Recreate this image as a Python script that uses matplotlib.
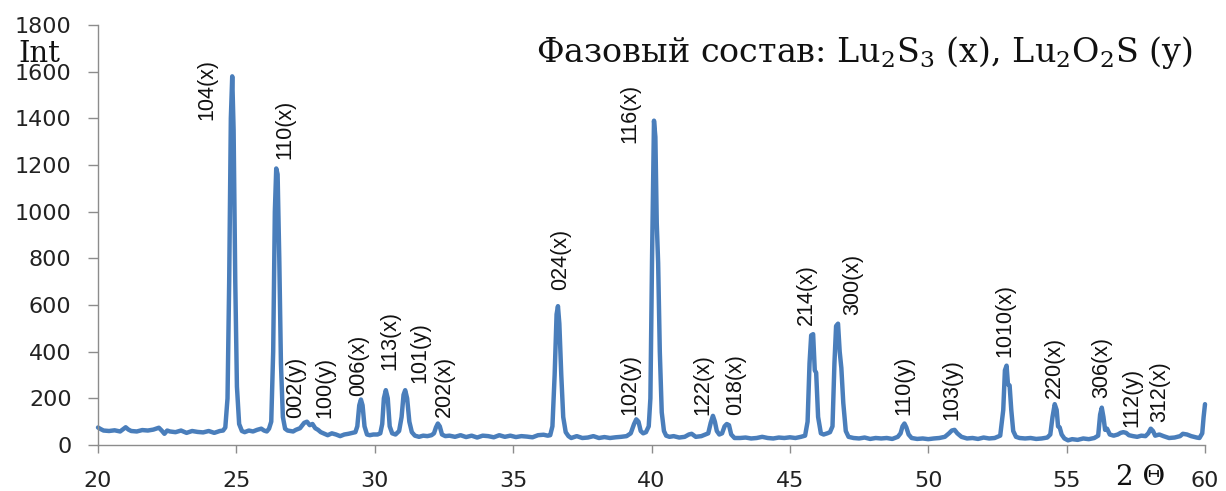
import matplotlib
matplotlib.use("Agg")
import matplotlib.pyplot as plt

plt.rcParams["mathtext.fontset"] = "dejavuserif"

# ---- data: (2theta, intensity) pairs, by region ----
seg_20_25 = [(20.0, 75), (20.1, 68), (20.2, 62), (20.4, 60), (20.6, 63), (20.8, 58), (21.0, 76),
             (21.1, 66), (21.2, 60), (21.4, 58), (21.6, 64), (21.8, 62), (22.0, 66), (22.2, 74),
             (22.3, 62), (22.4, 48), (22.5, 62), (22.6, 58), (22.8, 55), (23.0, 62), (23.2, 52),
             (23.4, 60), (23.6, 56), (23.8, 54), (24.0, 60), (24.2, 52), (24.4, 60), (24.52, 62),
             (24.6, 75), (24.68, 200), (24.74, 700), (24.8, 1400), (24.85, 1580), (24.9, 1350),
             (24.96, 700), (25.02, 250), (25.1, 90)]
seg_25_30 = [(25.2, 60), (25.3, 55), (25.45, 62), (25.6, 58), (25.75, 65), (25.9, 70), (26.0, 62),
             (26.1, 58), (26.18, 70), (26.26, 100), (26.33, 400), (26.39, 1000), (26.44, 1185),
             (26.49, 1160), (26.55, 800), (26.61, 350), (26.68, 120), (26.76, 70), (26.85, 62),
             (26.95, 60), (27.05, 58), (27.15, 65), (27.3, 72), (27.45, 95), (27.55, 100), (27.65, 85),
             (27.75, 90), (27.85, 72), (27.95, 65), (28.05, 55), (28.15, 50), (28.3, 42), (28.45, 50),
             (28.6, 45), (28.75, 38), (28.9, 45), (29.05, 48), (29.2, 52), (29.3, 55), (29.37, 80),
             (29.44, 170), (29.5, 195), (29.56, 170), (29.63, 80), (29.72, 45), (29.82, 42),
             (29.95, 45)]
seg_30_36 = [(30.1, 45), (30.2, 50), (30.27, 90), (30.33, 200), (30.4, 235), (30.47, 200),
             (30.54, 80), (30.63, 50), (30.75, 45), (30.88, 60), (30.97, 120), (31.04, 215),
             (31.1, 235), (31.17, 200), (31.25, 100), (31.34, 55), (31.45, 40), (31.6, 35),
             (31.75, 40), (31.9, 38), (32.05, 42), (32.14, 50), (32.21, 75), (32.28, 92), (32.35, 80),
             (32.43, 45), (32.55, 38), (32.7, 40), (32.9, 35), (33.1, 42), (33.3, 34), (33.5, 40),
             (33.7, 32), (33.9, 40), (34.1, 38), (34.3, 33), (34.5, 42), (34.7, 35), (34.9, 40),
             (35.1, 34), (35.3, 38), (35.5, 36), (35.7, 33), (35.9, 42), (36.1, 44), (36.25, 40),
             (36.34, 42)]
seg_36_42 = [(36.42, 80), (36.5, 300), (36.57, 560), (36.62, 595), (36.67, 520), (36.74, 300),
             (36.81, 120), (36.9, 55), (37.0, 38), (37.1, 30), (37.3, 38), (37.5, 30), (37.7, 32),
             (37.9, 38), (38.1, 30), (38.3, 34), (38.5, 30), (38.7, 33), (38.9, 35), (39.1, 38),
             (39.25, 50), (39.37, 90), (39.45, 110), (39.53, 100), (39.61, 60), (39.7, 50), (39.8, 55),
             (39.9, 80), (39.96, 200), (40.02, 800), (40.09, 1390), (40.14, 1320), (40.19, 950),
             (40.24, 780), (40.3, 400), (40.37, 140), (40.45, 60), (40.53, 40), (40.65, 35),
             (40.8, 38), (41.0, 32), (41.2, 35), (41.35, 45), (41.45, 48), (41.6, 35), (41.8, 38),
             (41.95, 45)]
seg_42_49 = [(42.05, 50), (42.14, 95), (42.22, 125), (42.29, 100), (42.36, 60), (42.45, 45),
             (42.55, 50), (42.64, 80), (42.72, 90), (42.8, 85), (42.88, 45), (43.0, 30), (43.2, 30),
             (43.4, 32), (43.6, 28), (43.8, 30), (44.0, 35), (44.2, 30), (44.4, 28), (44.6, 32),
             (44.8, 30), (45.0, 33), (45.2, 30), (45.4, 35), (45.55, 40), (45.64, 100), (45.71, 350),
             (45.77, 470), (45.84, 475), (45.9, 320), (45.95, 310), (46.02, 120), (46.12, 50),
             (46.22, 45), (46.35, 50), (46.45, 55), (46.54, 80), (46.61, 350), (46.67, 510),
             (46.74, 520), (46.8, 400), (46.86, 330), (46.93, 180), (47.02, 60), (47.12, 35),
             (47.3, 30), (47.5, 28), (47.7, 32), (47.9, 26), (48.1, 30), (48.3, 28), (48.5, 30),
             (48.7, 26), (48.9, 35)]
seg_49_55 = [(49.0, 50), (49.07, 80), (49.14, 92), (49.21, 75), (49.29, 45), (49.4, 30), (49.6, 26),
             (49.8, 28), (50.0, 25), (50.2, 28), (50.4, 30), (50.6, 35), (50.75, 50), (50.85, 62),
             (50.95, 65), (51.05, 50), (51.2, 35), (51.4, 28), (51.6, 30), (51.8, 26), (52.0, 32),
             (52.2, 28), (52.4, 30), (52.6, 40), (52.71, 150), (52.77, 320), (52.83, 340),
             (52.88, 260), (52.94, 255), (53.0, 150), (53.07, 60), (53.17, 35), (53.3, 30),
             (53.5, 28), (53.7, 30), (53.9, 26), (54.1, 28), (54.3, 32), (54.41, 45), (54.49, 120),
             (54.57, 175), (54.64, 150), (54.69, 80), (54.75, 75), (54.82, 45), (54.92, 28)]
seg_55_60 = [(55.05, 20), (55.2, 25), (55.4, 22), (55.6, 28), (55.8, 25), (56.0, 30), (56.14, 40),
             (56.21, 130), (56.27, 160), (56.33, 120), (56.39, 65), (56.46, 70), (56.56, 45),
             (56.7, 40), (56.85, 45), (56.95, 52), (57.05, 55), (57.15, 52), (57.25, 42), (57.4, 38),
             (57.55, 35), (57.7, 40), (57.85, 38), (57.95, 50), (58.04, 70), (58.12, 60), (58.2, 40),
             (58.35, 45), (58.5, 38), (58.7, 30), (58.9, 32), (59.1, 38), (59.2, 48), (59.35, 45),
             (59.5, 38), (59.7, 32), (59.8, 30), (59.9, 50), (59.95, 120), (60.0, 175)]

# peak annotations: text, 2theta of label centre, intensity at label bottom
peak_labels = ["104(x)", "110(x)", "002(y)", "100(y)", "006(x)", "113(x)", "101(y)", "202(x)",
               "024(x)", "102(y)", "116(x)", "122(x)", "018(x)", "214(x)", "300(x)", "110(y)",
               "103(y)", "1010(x)", "220(x)", "306(x)", "112(y)", "312(x)"]
label_x = [23.94, 26.76, 27.15, 28.2, 29.4, 30.55, 31.63, 32.5, 36.73, 39.22, 39.22, 41.86,
           43.05, 45.58, 47.28, 49.12, 50.86, 52.78, 54.54, 56.28, 57.36, 58.37]
label_y = [1393, 1226, 116, 116, 210, 321, 265, 120, 664, 129, 1294, 129, 129, 514, 557, 129,
           107, 377, 201, 201, 77, 99]

x_ticks = [20, 25, 30, 35, 40, 45, 50, 55, 60]
y_ticks = [0, 200, 400, 600, 800, 1000, 1200, 1400, 1600, 1800]

title_text = r"Фазовый состав: Lu$_2$S$_3$ (x), Lu$_2$O$_2$S (y)"
y_label = "Int"
x_label = "2 Θ"

# ---- build ----
points = seg_20_25 + seg_25_30 + seg_30_36 + seg_36_42 + seg_42_49 + seg_49_55 + seg_55_60
two_theta = [p[0] for p in points]
intensity = [p[1] for p in points]

W, H = 1226, 491
fig = plt.figure(figsize=(W / 100, H / 100), dpi=100)
ax = fig.add_axes([98 / W, 1 - 445 / H, (1205 - 98) / W, (445 - 25) / H])

line_color = "#4A7EBB"
ax.plot(two_theta, intensity, color=line_color, lw=3.2, solid_joinstyle="round",
        solid_capstyle="round", clip_on=False)

ax.set_xlim(20, 60)
ax.set_ylim(0, 1800)
ax.set_xticks(x_ticks)
ax.set_yticks(y_ticks)

for s in ["top", "right"]:
    ax.spines[s].set_visible(False)
for s in ["left", "bottom"]:
    ax.spines[s].set_color("#8c8c8c")
    ax.spines[s].set_linewidth(1.0)

ax.tick_params(axis="both", colors="#8c8c8c", labelcolor="#222222", direction="out")
ax.tick_params(axis="y", length=7, width=1, pad=12, labelsize=16)
ax.tick_params(axis="x", length=6, width=1, pad=13, labelsize=16)

lab_font = ["Liberation Sans", "DejaVu Sans"]
for t, xv, yv in zip(peak_labels, label_x, label_y):
    ax.text(xv, yv, t, rotation=90, ha="center", va="bottom", fontsize=15.5,
            family=lab_font, color="#111111")

serif = ["DejaVu Serif", "Liberation Serif"]
fig.text(1193 / W, 1 - 62 / H, title_text, ha="right", va="baseline", fontsize=24,
         family=serif, color="#111111")
fig.text(18 / W, 1 - 62 / H, y_label, ha="left", va="baseline", fontsize=21,
         family=serif, color="#111111")
fig.text(1141 / W, 1 - 485 / H, x_label, ha="center", va="baseline", fontsize=20,
         family=serif, color="#111111")

fig.savefig("out.png", dpi=100)
